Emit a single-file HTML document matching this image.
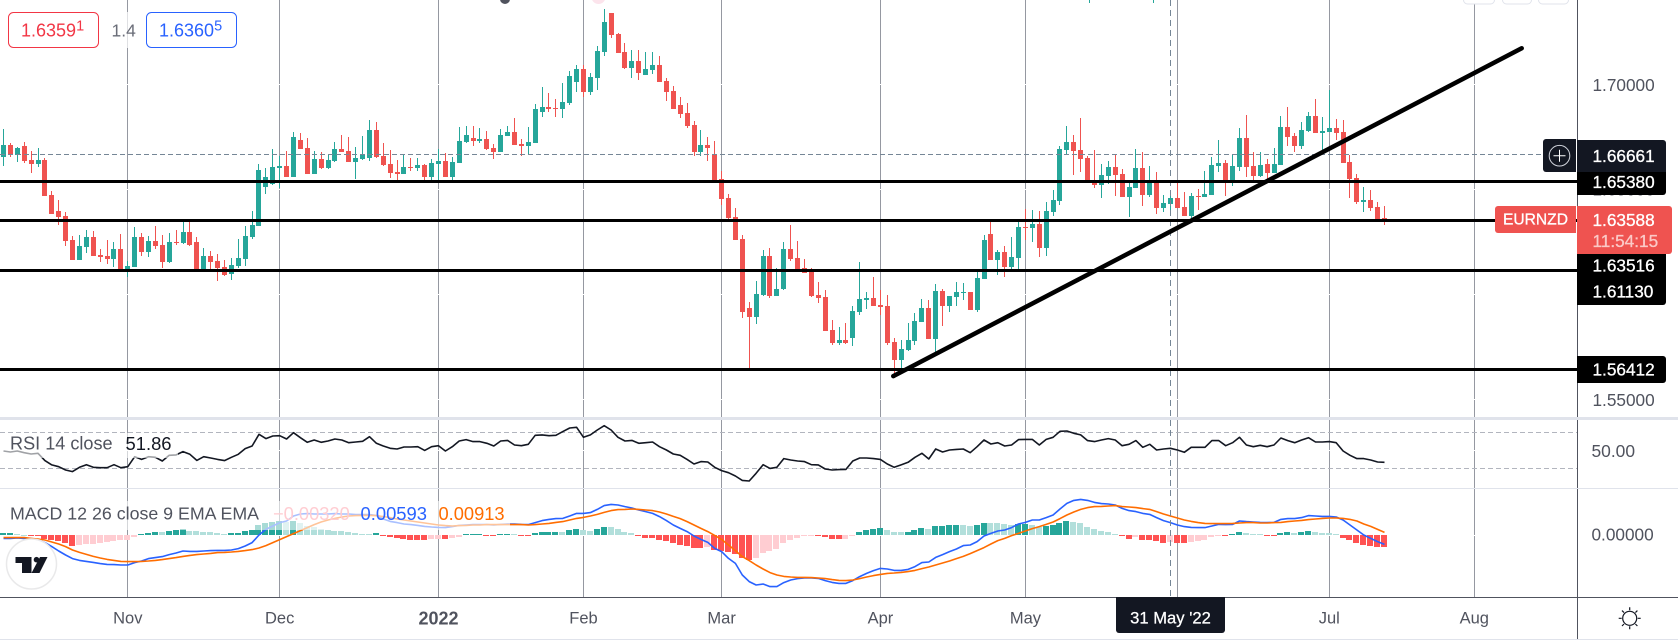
<!DOCTYPE html>
<html lang="en">
<head>
<meta charset="utf-8">
<title>EURNZD chart</title>
<style>
html,body{margin:0;padding:0;background:#fff;width:1678px;height:644px;overflow:hidden}
svg{display:block;font-family:"Liberation Sans",sans-serif}
text{dominant-baseline:central}
</style>
</head>
<body>
<svg id="chart" width="1678" height="644" viewBox="0 0 1678 644" xmlns="http://www.w3.org/2000/svg">
  <g id="grid"></g>
  <g id="top-fragments">
    <circle cx="505" cy="-1" r="5" fill="#50535e"/>
    <circle cx="598.5" cy="-3" r="7" fill="#fce4ec"/>
    <rect x="1089" y="0" width="1" height="3" fill="#26a69a"/>
    <rect x="1153" y="0" width="1" height="3" fill="#26a69a"/>
    <rect x="1463.5" y="-12" width="31" height="16" rx="4" fill="#fff" stroke="#e0e3eb"/>
    <rect x="1502.5" y="-12" width="29" height="16" rx="4" fill="#fff" stroke="#e0e3eb"/>
    <rect x="1538.5" y="-12" width="30" height="16" rx="4" fill="#fff" stroke="#e0e3eb"/>
  </g>
  <g id="hist"></g>
  <g id="candles"></g>
  <g id="rsi"></g>
  <g id="macd"></g>
  <g id="drawings"></g>

  <rect x="0" y="433" width="178" height="25" fill="#fff" opacity="0.6"/>
  <rect x="0" y="501" width="510" height="29" fill="#fff" opacity="0.6"/>
  <rect x="105" y="12" width="34" height="36" fill="#fff" opacity="0.7"/>

  <text x="10" y="443.5" font-size="18.1" fill="#50535e">RSI 14 close</text>
  <text x="125.5" y="443.5" font-size="18.4" fill="#131722">51.86</text>
  <text x="10" y="513.5" font-size="17.8" fill="#50535e">MACD 12 26 close 9 EMA EMA</text>
  <text x="273" y="513.5" font-size="18.3" fill="#ffcdd2">−0.00320</text>
  <text x="360.5" y="513.5" font-size="18.4" fill="#2962ff">0.00593</text>
  <text x="438.5" y="513.5" font-size="18.3" fill="#ff6d00">0.00913</text>

  <g>
    <rect x="8.5" y="12.5" width="90" height="35" rx="5" fill="#fff" stroke="#f23645"/>
    <text x="21" y="30.5" font-size="18" fill="#f23645">1.6359<tspan font-size="14.5" dy="-4">1</tspan></text>
  </g>
  <text x="111.5" y="30.5" font-size="17.5" fill="#6a6d78">1.4</text>
  <g>
    <rect x="146.5" y="12.5" width="90" height="35" rx="5" fill="#fff" stroke="#2962ff"/>
    <text x="159" y="30.5" font-size="18" fill="#2962ff">1.6360<tspan font-size="14.5" dy="-4">5</tspan></text>
  </g>

  <g>
    <circle cx="31.5" cy="564" r="25" fill="#fff" fill-opacity="0.85" stroke="#e9e9ea" stroke-width="1.5"/>
    <path d="M15.5 557H31.5V573H22V563H15.5Z" fill="#131722"/>
    <circle cx="36.5" cy="559.7" r="2.8" fill="#131722"/>
    <path d="M40 557H47.5L39.5 573H31.5Z" fill="#131722"/>
  </g>

  <rect x="0" y="417" width="1678" height="3" fill="#e0e3eb"/>
  <rect x="0" y="488" width="1678" height="1" fill="#e0e3eb"/>
  <rect x="1577" y="0" width="1" height="417" fill="#50535e"/>
  <rect x="1577" y="420" width="1" height="68" fill="#50535e"/>
  <rect x="1577" y="489" width="1" height="150" fill="#50535e"/>
  <rect x="0" y="597" width="1678" height="1" fill="#50535e"/>
  <rect x="0" y="639" width="1678" height="1" fill="#e0e3eb"/>

  <g id="price-ticks"></g>
  <g id="time-ticks"></g>

  <text x="1591.5" y="451" font-size="17.4" fill="#50535e">50.00</text>
  <text x="1591.5" y="534.5" font-size="17.2" fill="#50535e">0.00000</text>

  <g>
    <path d="M1577 172H1666V192a3 3 0 0 1-3 3H1577Z" fill="#000"/>
    <text x="1592.5" y="181.8" font-size="17.2" fill="#fff" stroke="#fff" stroke-width=".3">1.65380</text>
    <path d="M1577 140H1663a3 3 0 0 1 3 3V172H1577Z" fill="#131722"/>
    <text x="1592.5" y="155.8" font-size="17.2" fill="#fff" stroke="#fff" stroke-width=".3">1.66661</text>
    <path d="M1576 139V172H1546a3 3 0 0 1-3-3V142a3 3 0 0 1 3-3Z" fill="#131722"/>
    <g>
      <circle cx="1559.5" cy="155.7" r="10.3" fill="none" stroke="#d1d4dc" stroke-width="1"/>
      <path d="M1553.5 155.7H1565.5M1559.5 149.7V161.7" stroke="#fff" stroke-width="1"/>
    </g>
    <path d="M1577 252H1666V278H1577Z" fill="#000"/>
    <text x="1592.5" y="265.7" font-size="17.2" fill="#fff" stroke="#fff" stroke-width=".3">1.63516</text>
    <path d="M1577 278H1666V302a3 3 0 0 1-3 3H1577Z" fill="#000"/>
    <text x="1592.5" y="291.7" font-size="17.2" fill="#fff" stroke="#fff" stroke-width=".3">1.61130</text>
    <path d="M1577 356H1663a3 3 0 0 1 3 3V380a3 3 0 0 1-3 3H1577Z" fill="#000"/>
    <text x="1592.5" y="369.5" font-size="17.2" fill="#fff" stroke="#fff" stroke-width=".3">1.56412</text>
    <path d="M1577 206H1669a3 3 0 0 1 3 3V251a3 3 0 0 1-3 3H1577Z" fill="#ef5350"/>
    <text x="1592.5" y="219.8" font-size="17.2" fill="#fff" stroke="#fff" stroke-width=".3">1.63588</text>
    <text x="1592.5" y="241" font-size="17.2" fill="#fbc9c7" stroke="#fbc9c7" stroke-width=".3">11:54:15</text>
    <path d="M1576 206V233H1498a3 3 0 0 1-3-3V209a3 3 0 0 1 3-3Z" fill="#ef5350"/>
    <text x="1503" y="219.8" font-size="15.6" fill="#fff" stroke="#fff" stroke-width=".3">EURNZD</text>
  </g>

  <path d="M1116 597H1225V630a3 3 0 0 1-3 3H1119a3 3 0 0 1-3-3Z" fill="#131722"/>
  <text x="1170.5" y="618" font-size="16.6" fill="#fff" text-anchor="middle" stroke="#fff" stroke-width=".25">31 May '22</text>

  <g fill="none" stroke="#131722" stroke-width="1.2">
    <circle cx="1629.7" cy="618.3" r="7"/>
    <path d="M1629.7 607.3V610.3M1629.7 626.3V629.3M1618.7 618.3H1621.7M1637.7 618.3H1640.7M1622 610.6L1624 612.6M1635.4 624L1637.4 626M1637.4 610.6L1635.4 612.6M1624 624L1622 626"/>
  </g>
</svg>

<script>
const opens = [1.6658,1.6713,1.6666,1.6709,1.6642,1.6623,1.6642,1.6475,1.6399,1.6375,1.6260,1.6165,1.6227,1.6275,1.6189,1.6184,1.6170,1.6217,1.6116,1.6131,1.6275,1.6203,1.6255,1.6236,1.6155,1.6251,1.6246,1.6298,1.6251,1.6122,1.6184,1.6160,1.6131,1.6098,1.6136,1.6170,1.6275,1.6327,1.6513,1.6527,1.6604,1.6613,1.6561,1.6737,1.6699,1.6575,1.6647,1.6604,1.6637,1.6694,1.6685,1.6632,1.6647,1.6651,1.6785,1.6661,1.6623,1.6585,1.6575,1.6608,1.6604,1.6618,1.6561,1.6623,1.6637,1.6561,1.6627,1.6728,1.6747,1.6732,1.6742,1.6699,1.6680,1.6756,1.6775,1.6718,1.6709,1.6723,1.6871,1.6895,1.6890,1.6885,1.6914,1.7014,1.7076,1.6966,1.7033,1.7157,1.7343,1.7243,1.7157,1.7081,1.7114,1.7047,1.7071,1.7095,1.7019,1.6971,1.6904,1.6866,1.6809,1.6680,1.6713,1.6666,1.6551,1.6461,1.6370,1.6265,1.5936,1.5893,1.5998,1.6184,1.5993,1.6026,1.6217,1.6174,1.6127,1.6112,1.5998,1.5988,1.5831,1.5769,1.5783,1.5793,1.5917,1.5974,1.5984,1.5950,1.5945,1.5774,1.5688,1.5735,1.5778,1.5869,1.5936,1.5788,1.6017,1.5945,1.5988,1.6007,1.6012,1.5926,1.6074,1.6289,1.6165,1.6203,1.6131,1.6174,1.6322,1.6317,1.6337,1.6222,1.6394,1.6446,1.6689,1.6728,1.6689,1.6651,1.6546,1.6523,1.6565,1.6608,1.6575,1.6465,1.6508,1.6604,1.6475,1.6537,1.6413,1.6432,1.6461,1.6418,1.6375,1.6470,1.6465,1.6475,1.6613,1.6627,1.6546,1.6608,1.6747,1.6613,1.6565,1.6623,1.6580,1.6618,1.6799,1.6756,1.6709,1.6780,1.6852,1.6771,1.6775,1.6794,1.6775,1.6632,1.6556,1.6441,1.6451,1.6418,1.6365];
const highs = [1.6790,1.6721,1.6705,1.6728,1.6685,1.6697,1.6650,1.6494,1.6451,1.6394,1.6279,1.6284,1.6308,1.6302,1.6217,1.6260,1.6251,1.6289,1.6160,1.6322,1.6292,1.6279,1.6327,1.6284,1.6292,1.6308,1.6349,1.6349,1.6275,1.6222,1.6208,1.6193,1.6165,1.6174,1.6265,1.6327,1.6399,1.6623,1.6604,1.6694,1.6661,1.6685,1.6775,1.6771,1.6747,1.6685,1.6680,1.6670,1.6728,1.6761,1.6752,1.6704,1.6756,1.6833,1.6823,1.6723,1.6689,1.6642,1.6666,1.6651,1.6651,1.6623,1.6647,1.6694,1.6675,1.6656,1.6799,1.6804,1.6804,1.6794,1.6780,1.6718,1.6790,1.6804,1.6842,1.6742,1.6799,1.6909,1.6990,1.6961,1.6933,1.7009,1.7066,1.7095,1.7095,1.7057,1.7186,1.7362,1.7343,1.7248,1.7200,1.7166,1.7166,1.7157,1.7157,1.7138,1.7033,1.6995,1.6942,1.6914,1.6828,1.6785,1.6752,1.6732,1.6589,1.6480,1.6413,1.6284,1.5964,1.6065,1.6212,1.6222,1.6125,1.6251,1.6332,1.6255,1.6170,1.6127,1.6060,1.6022,1.5879,1.5845,1.5864,1.5945,1.6155,1.6012,1.6084,1.6022,1.5998,1.5793,1.5783,1.5864,1.5912,1.5979,1.5974,1.6050,1.6026,1.5993,1.6060,1.6055,1.6012,1.6108,1.6284,1.6346,1.6212,1.6232,1.6275,1.6346,1.6408,1.6403,1.6399,1.6441,1.6499,1.6709,1.6804,1.6761,1.6842,1.6661,1.6689,1.6623,1.6637,1.6670,1.6599,1.6537,1.6694,1.6680,1.6613,1.6585,1.6475,1.6499,1.6532,1.6489,1.6483,1.6503,1.6589,1.6656,1.6737,1.6642,1.6670,1.6794,1.6856,1.6680,1.6680,1.6647,1.6699,1.6852,1.6895,1.6771,1.6823,1.6871,1.6933,1.6847,1.6976,1.6837,1.6833,1.6666,1.6575,1.6513,1.6499,1.6441,1.6422];
const lows = [1.6613,1.6658,1.6632,1.6626,1.6581,1.6607,1.6470,1.6384,1.6332,1.6232,1.6165,1.6165,1.6198,1.6184,1.6155,1.6146,1.6131,1.6116,1.6085,1.6131,1.6184,1.6179,1.6217,1.6127,1.6150,1.6236,1.6241,1.6232,1.6114,1.6117,1.6122,1.6065,1.6088,1.6069,1.6127,1.6136,1.6265,1.6327,1.6480,1.6523,1.6507,1.6561,1.6561,1.6694,1.6575,1.6575,1.6599,1.6599,1.6632,1.6680,1.6632,1.6551,1.6642,1.6637,1.6651,1.6613,1.6556,1.6546,1.6575,1.6589,1.6589,1.6546,1.6546,1.6546,1.6561,1.6546,1.6627,1.6723,1.6709,1.6723,1.6689,1.6647,1.6680,1.6756,1.6713,1.6661,1.6670,1.6723,1.6847,1.6871,1.6847,1.6842,1.6904,1.6966,1.6942,1.6952,1.6976,1.7138,1.7224,1.7152,1.7076,1.7033,1.7023,1.7047,1.7052,1.7014,1.6923,1.6885,1.6842,1.6794,1.6661,1.6661,1.6637,1.6538,1.6427,1.6360,1.6260,1.5888,1.5648,1.5860,1.5993,1.5984,1.5993,1.6022,1.6160,1.6122,1.6103,1.5988,1.5960,1.5826,1.5759,1.5759,1.5764,1.5755,1.5902,1.5931,1.5945,1.5902,1.5759,1.5600,1.5640,1.5731,1.5759,1.5869,1.5788,1.5720,1.5850,1.5917,1.5945,1.5974,1.5926,1.5917,1.6074,1.6165,1.6093,1.6084,1.6122,1.6122,1.6260,1.6251,1.6179,1.6184,1.6375,1.6427,1.6666,1.6570,1.6585,1.6542,1.6508,1.6461,1.6527,1.6470,1.6465,1.6370,1.6508,1.6422,1.6465,1.6384,1.6394,1.6399,1.6413,1.6375,1.6365,1.6403,1.6465,1.6475,1.6585,1.6470,1.6518,1.6589,1.6561,1.6546,1.6561,1.6546,1.6580,1.6618,1.6709,1.6680,1.6694,1.6775,1.6771,1.6689,1.6775,1.6737,1.6627,1.6461,1.6432,1.6394,1.6399,1.6356,1.6332];
const closes = [1.6713,1.6664,1.6697,1.6637,1.6623,1.6642,1.6470,1.6384,1.6370,1.6255,1.6165,1.6232,1.6275,1.6184,1.6179,1.6170,1.6217,1.6116,1.6136,1.6275,1.6203,1.6255,1.6232,1.6155,1.6251,1.6246,1.6298,1.6236,1.6122,1.6184,1.6155,1.6127,1.6093,1.6141,1.6174,1.6279,1.6332,1.6594,1.6562,1.6608,1.6613,1.6561,1.6752,1.6694,1.6575,1.6647,1.6604,1.6642,1.6694,1.6680,1.6632,1.6651,1.6670,1.6785,1.6656,1.6618,1.6580,1.6575,1.6608,1.6604,1.6618,1.6561,1.6627,1.6637,1.6561,1.6632,1.6732,1.6761,1.6732,1.6742,1.6694,1.6680,1.6761,1.6775,1.6713,1.6709,1.6728,1.6885,1.6895,1.6885,1.6885,1.6918,1.7042,1.7076,1.6966,1.7038,1.7162,1.7300,1.7238,1.7152,1.7081,1.7114,1.7057,1.7076,1.7095,1.7014,1.6966,1.6885,1.6861,1.6804,1.6680,1.6713,1.6699,1.6546,1.6456,1.6365,1.6260,1.5917,1.5893,1.6003,1.6184,1.5993,1.6026,1.6217,1.6170,1.6122,1.6103,1.5993,1.5984,1.5826,1.5769,1.5783,1.5769,1.5922,1.5979,1.5984,1.5945,1.5941,1.5769,1.5688,1.5740,1.5783,1.5874,1.5936,1.5788,1.6017,1.5945,1.5993,1.6012,1.6012,1.5926,1.6079,1.6260,1.6165,1.6203,1.6131,1.6179,1.6322,1.6317,1.6337,1.6222,1.6399,1.6451,1.6694,1.6728,1.6685,1.6647,1.6546,1.6523,1.6570,1.6608,1.6570,1.6465,1.6513,1.6604,1.6475,1.6537,1.6413,1.6437,1.6461,1.6413,1.6375,1.6470,1.6465,1.6480,1.6618,1.6627,1.6546,1.6613,1.6747,1.6608,1.6565,1.6618,1.6580,1.6623,1.6799,1.6752,1.6709,1.6785,1.6852,1.6771,1.6780,1.6794,1.6771,1.6627,1.6551,1.6441,1.6451,1.6413,1.6360,1.6359];

const rsiValues = [49.3,48.2,49.3,47.4,46.0,46.7,38.6,33.8,31.9,28.2,26.4,31.2,34.1,31.2,30.8,30.8,34.1,30.8,31.9,43.0,40.0,43.0,42.3,38.2,44.5,44.9,48.6,45.6,38.9,43.0,41.5,40.0,38.6,42.3,45.6,51.9,54.8,67.8,63.0,65.9,66.3,62.6,69.6,64.1,58.9,61.5,58.9,60.4,62.6,61.5,58.5,59.3,60.0,65.2,57.8,54.8,52.3,51.5,53.7,53.7,54.1,50.0,54.1,55.2,49.3,54.1,60.4,61.9,59.7,59.7,57.8,54.8,60.4,61.1,55.9,55.2,56.7,66.7,67.1,66.3,66.7,70.8,74.8,75.6,64.5,67.1,72.6,77.4,72.6,64.5,60.4,61.1,57.8,58.5,59.3,54.1,50.4,46.0,44.5,40.0,34.9,37.5,37.1,31.2,27.5,25.2,21.5,16.7,16.0,24.5,34.1,30.0,31.2,40.8,39.3,38.2,37.5,34.1,33.8,29.3,28.2,28.6,28.9,38.2,41.5,41.5,40.8,40.0,34.9,31.2,33.8,36.7,42.3,46.7,40.4,51.5,48.2,50.4,51.1,51.5,47.4,54.1,61.5,57.1,58.5,54.8,55.9,61.9,62.2,62.2,55.9,62.2,64.5,71.1,71.5,68.9,67.1,60.8,59.7,61.5,63.0,61.5,55.2,56.7,60.8,53.4,56.7,50.4,51.5,52.3,50.4,47.8,53.4,53.4,53.4,60.8,60.8,55.2,58.5,64.5,55.9,54.1,55.6,54.1,55.9,63.7,60.8,58.5,61.5,64.1,59.3,59.3,59.7,58.5,49.3,44.5,40.8,40.8,39.3,37.1,36.7];

// MACD series in units of 0.001
const macdLine = [-1.7,-1.7,-1.5,-1.7,-1.8,-2.3,-3.8,-5.8,-8.0,-10.0,-11.8,-12.7,-13.2,-13.7,-14.3,-14.7,-14.8,-15.0,-15.0,-13.8,-13.0,-11.8,-11.3,-10.8,-9.8,-9.0,-8.0,-8.2,-8.2,-8.0,-7.8,-7.7,-7.7,-7.5,-6.8,-5.5,-3.8,0,2.8,4.5,6.2,7.0,9.5,10.5,10.7,10.5,10.5,10.5,10.7,10.5,10.5,10.2,10.2,10.2,9.7,8.0,6.8,6.2,5.5,5.2,4.8,4.3,4.0,3.8,3.7,4.2,4.8,5.0,5.2,5.2,5.2,5.0,5.3,5.5,5.5,5.3,5.2,6.2,7.2,7.8,8.2,8.3,9.5,10.8,10.8,11.2,12.8,14.7,15.3,15.0,14.2,13.5,12.5,11.7,10.8,9.2,7.2,5.0,3.3,1.7,-0.5,-2.2,-3.7,-6.7,-8.3,-11.7,-14.2,-20.0,-23.3,-25.0,-24.5,-25.8,-25.8,-23.8,-22.5,-21.8,-21.5,-21.5,-21.7,-22.8,-23.7,-24.2,-24.2,-22.8,-20.8,-19.2,-17.8,-16.7,-17.0,-17.7,-17.7,-17.2,-15.8,-13.8,-13.5,-11.2,-9.8,-8.3,-7.0,-5.3,-5.0,-3.3,-0.5,0.8,2.0,2.5,3.7,5.5,6.3,7.5,7.5,8.7,10.0,13.0,15.8,17.3,17.8,17.3,16.3,15.7,15.5,15.0,13.3,12.2,11.7,10.8,10.3,8.7,7.2,6.2,5.0,4.2,3.8,3.7,3.7,4.5,5.3,5.2,5.3,7.0,6.7,6.5,6.3,6.2,6.3,7.8,8.2,8.2,8.7,9.7,9.5,9.3,9.3,9.0,7.5,5.0,2.5,0,-1.7,-3.3,-4.7];
const signalLine = [-1.3,-1.3,-1.3,-1.3,-1.7,-2.0,-2.5,-3.5,-4.5,-5.8,-7.5,-8.7,-9.7,-10.7,-11.5,-12.2,-12.7,-13.2,-13.3,-13.3,-13.2,-13.0,-12.7,-12.3,-11.8,-11.3,-10.7,-10.2,-9.8,-9.5,-9.2,-8.8,-8.7,-8.5,-8.2,-7.8,-7.3,-6.5,-5.3,-3.8,-2.3,-0.8,0.7,2.2,3.7,5.2,6.5,7.5,8.3,9.0,9.5,9.7,9.8,9.8,9.7,9.2,8.7,8.0,7.5,7.0,6.5,6.0,5.5,5.0,4.7,4.5,4.7,4.8,5.0,5.0,5.2,5.2,5.2,5.2,5.2,5.2,5.0,5.2,5.5,5.8,6.3,6.7,7.5,8.3,8.8,9.5,10.3,11.3,12.2,12.7,12.8,13.0,12.8,12.5,12.2,11.5,10.5,9.3,8.2,6.7,5.0,3.3,1.7,-0.2,-2.2,-5.0,-7.8,-10.8,-12.8,-15.0,-17.0,-18.8,-20.0,-20.7,-21.0,-21.2,-21.2,-21.3,-21.5,-21.8,-22.3,-22.7,-22.8,-22.5,-21.8,-21.0,-20.3,-19.7,-19.2,-19.0,-18.7,-18.3,-17.7,-16.8,-16.0,-15.0,-14.0,-13.0,-11.8,-10.7,-9.3,-7.8,-6.3,-4.5,-2.8,-1.7,-0.3,0.8,2.0,3.2,4.2,5.3,6.5,8.2,10.0,11.5,12.8,13.7,14.2,14.3,14.5,14.7,14.2,14.0,13.7,13.2,12.8,11.7,10.5,9.5,8.5,7.5,6.8,6.2,5.8,5.7,5.7,5.7,5.8,6.0,6.2,6.2,6.0,6.0,6.2,6.3,6.7,7.0,7.3,7.7,8.0,8.3,8.5,8.5,8.3,7.8,7.0,5.5,4.3,2.8,1.3];
const histogram = [0.8,0.8,0.5,0.2,-0.3,-0.5,-2.0,-2.5,-3.0,-4.2,-5.5,-5.2,-4.7,-4.3,-3.8,-3.3,-2.8,-2.7,-2.5,-1.0,0.3,0.8,1.5,1.3,2.0,2.3,2.8,2.2,1.8,1.7,1.3,1.2,0.7,0.8,1.2,1.8,2.5,5.0,5.8,6.7,7.2,6.7,7.2,5.8,4.5,3.8,3.2,2.5,2.2,1.8,1.5,1.2,0.7,0.5,0.8,-0.5,-0.8,-1.7,-2.2,-2.3,-2.5,-2.6,-2.0,-1.8,-2.0,-1.7,-1.2,0.5,0.6,0.7,-0.3,-0.4,0.5,0.6,0.3,-0.3,-0.4,1.2,1.5,1.6,1.7,1.3,2.3,2.8,2.3,2.0,2.8,4.0,3.9,3.0,1.3,0.8,-0.3,-1.3,-1.5,-2.3,-2.8,-3.8,-5.0,-5.3,-6.3,-6.7,-6.2,-7.5,-8.0,-8.3,-9.3,-11.7,-12.5,-11.3,-8.8,-7.8,-7.0,-4.0,-2.3,-1.5,-0.7,-0.3,-0.4,-0.8,-1.8,-1.9,-1.8,-0.3,1.5,2.5,3.0,3.5,2.5,1.5,1.4,1.5,2.5,3.5,3.0,4.5,4.6,5.0,5.1,5.0,4.5,5.0,6.0,5.9,5.8,5.5,5.0,5.5,5.6,5.0,4.0,4.5,5.0,6.0,7.0,6.5,6.0,4.0,3.0,2.0,1.5,0.5,-0.7,-1.8,-1.0,-2.3,-2.4,-3.2,-3.8,-3.7,-3.8,-3.9,-3.3,-2.8,-2.3,-1.0,-0.3,-0.4,0.5,1.5,1.0,0.7,0.6,-0.3,-0.4,1.0,1.5,1.0,1.5,2.0,1.5,1.2,1.0,0.5,-1.5,-2.3,-3.8,-5.0,-5.5,-6.0,-6.1];

const priceTicks = [1.70, 1.65, 1.60, 1.55];
const priceTickLabels = ["1.70000", "1.65000", "1.60000", "1.55000"];
const levelPrices = [1.6538, 1.63516, 1.6113, 1.56412];
const crosshairPrice = 1.66661;
const crosshairBar = 169;
const timeTickBars = [18, 40, 63, 84, 104, 127, 148, 192, 213];
const timeTickLabels = ["Nov", "Dec", "2022", "Feb", "Mar", "Apr", "May", "Jul", "Aug"];
const gridBars = [18, 40, 63, 84, 104, 127, 148, 170, 192, 213];
const rsiBands = [70, 30];
const rsiMidline = [50];
const trendBars = [128.86, 219.87];
const trendPrices = [1.5611, 1.71746];

const SVGNS = "http://www.w3.org/2000/svg";
const xBar = i => 3.5 + 6.905 * i;
const yPrice = p => 84.9 + (1.7 - p) * 2096.4;
const yRsi = v => 495.4 - v * 0.9009;
const yMacd = v => 535 - 2 * v;
const mk = (tag, parent, attrs) => {
  const el = document.createElementNS(SVGNS, tag);
  for (const k in attrs) el.setAttribute(k, attrs[k]);
  parent.appendChild(el);
  return el;
};
const $ = id => document.getElementById(id);

// grid
const grid = $("grid");
gridBars.forEach(b => {
  const el = mk("rect", grid, {x: Math.floor(xBar(b)), y: 0, width: 1, height: 597, fill: "#9598a1"});
  
  
});
priceTicks.forEach(p => {
  const el = mk("rect", grid, {x: 0, y: Math.floor(yPrice(p)), width: 1577, height: 1, fill: "#fff"});
  
  
});
rsiMidline.forEach(v => {
  const el = mk("rect", grid, {x: 0, y: Math.floor(yRsi(v)), width: 1577, height: 1, fill: "#fff"});
  
  
});
{
  const el = mk("rect", grid, {x: 0, y: Math.floor(yMacd(0)), width: 1577, height: 1, fill: "#fff"});
  
  
}

// histogram
const histG = $("hist");
histogram.forEach((v, i) => {
  const prev = i ? histogram[i - 1] : v;
  const color = v >= 0 ? (v >= prev ? "#26a69a" : "#b2dfdb") : (v <= prev ? "#ff5252" : "#ffcdd2");
  const y0 = yMacd(0), y1 = yMacd(v);
  const top = Math.round(Math.min(y0, y1));
  const h = Math.max(1, Math.round(Math.abs(y1 - y0)));
  const el = mk("rect", histG, {x: Math.floor(xBar(i)) - 3, y: top, width: 6, height: h, fill: color});
  
  
});

// candles
const candleG = $("candles");
opens.forEach((o, i) => {
  const c = closes[i], up = c > o;
  const col = up ? "#26a69a" : "#ef5350";
  const cx = Math.floor(xBar(i));
  const g = mk("g", candleG, {});
  
  
  const hy = Math.round(yPrice(highs[i])), ly = Math.round(yPrice(lows[i]));
  mk("rect", g, {x: cx, y: hy, width: 1, height: Math.max(1, ly - hy), fill: col});
  const t = Math.round(yPrice(Math.max(o, c))), b = Math.round(yPrice(Math.min(o, c)));
  mk("rect", g, {x: cx - 2, y: t, width: 5, height: Math.max(1, b - t), fill: col});
});

// line helper
const polyline = (parent, values, yFn, color, width) => mk("polyline", parent, {
  points: values.map((v, i) => xBar(i).toFixed(1) + "," + yFn(v).toFixed(1)).join(" "),
  fill: "none", stroke: color, "stroke-width": width, "stroke-linejoin": "round"
});

// RSI
const rsiG = $("rsi");
rsiBands.forEach(v => {
  const el = mk("line", rsiG, {x1: 0, x2: 1577, y1: Math.floor(yRsi(v)) + 0.5, y2: Math.floor(yRsi(v)) + 0.5, stroke: "#b2b5be", "stroke-width": 1, "stroke-dasharray": "5 3"});
  
  
});
const rsiLine = polyline(rsiG, rsiValues, yRsi, "#131722", 1.6);



// MACD
const macdG = $("macd");
const macdPath = polyline(macdG, macdLine, yMacd, "#2962ff", 1.6);


const signalPath = polyline(macdG, signalLine, yMacd, "#ff6d00", 1.6);



// drawings
const dr = $("drawings");
const chy = Math.floor(yPrice(crosshairPrice)) + 0.5;
const chH = mk("line", dr, {x1: 0, x2: 1543, y1: chy, y2: chy, stroke: "#758696", "stroke-width": 1, "stroke-dasharray": "5 3"});


const chX = Math.floor(xBar(crosshairBar)) + 0.5;
const chV = mk("line", dr, {x1: chX, x2: chX, y1: 0, y2: 597, stroke: "#758696", "stroke-width": 1, "stroke-dasharray": "6 4"});


levelPrices.forEach(p => {
  const el = mk("rect", dr, {x: 0, y: Math.round(yPrice(p) - 1.5), width: 1577, height: 3, fill: "#000"});
  
  
});
const trend = mk("line", dr, {
  x1: xBar(trendBars[0]), y1: yPrice(trendPrices[0]),
  x2: xBar(trendBars[1]), y2: yPrice(trendPrices[1]),
  stroke: "#000", "stroke-width": 4.5, "stroke-linecap": "round"
});



// axes
const priceT = $("price-ticks");
priceTicks.forEach((p, i) => {
  const el = mk("text", priceT, {x: 1592.5, y: yPrice(p) + (p < 1.6 ? 0.5 : 0), "font-size": 17.2, fill: "#50535e"});
  el.textContent = priceTickLabels[i];
  
  
});
const timeT = $("time-ticks");
timeTickBars.forEach((b, i) => {
  const isYear = timeTickLabels[i] === "2022";
  const el = mk("text", timeT, {x: xBar(b), y: 618.5, "font-size": isYear ? 18 : 16.5, "font-weight": isYear ? 700 : 400, fill: "#50535e", "text-anchor": "middle"});
  el.textContent = timeTickLabels[i];
  
  
});
</script>
</body>
</html>
